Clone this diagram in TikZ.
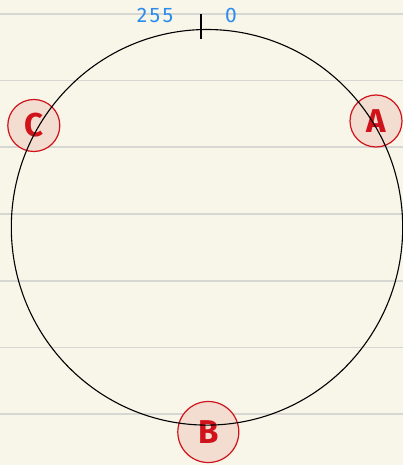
\documentclass[tikz,border=0pt]{standalone}
\usepackage{fontspec}
\setmainfont{Fira Sans}
\definecolor{paper}{HTML}{F8F5E9}
\definecolor{rule}{HTML}{D6D6D3}
\definecolor{nodered}{HTML}{D0121B}
\definecolor{nodefill}{HTML}{F3DCD0}
\definecolor{tickblue}{HTML}{2B8CF0}
\tikzset{
  ringnode/.style={circle, draw=nodered, fill=nodefill, line width=1.2pt, inner sep=0pt, text=nodered, font=\bfseries\fontsize{33}{33}\selectfont},
  lbl/.style={text=tickblue, font=\fontsize{21}{21}\selectfont\addfontfeature{LetterSpace=12}, inner sep=0pt}
}
\begin{document}
\begin{tikzpicture}[x=1pt,y=-1pt]
\fill[paper] (0,0) rectangle (403,465);
\useasboundingbox (0,0) rectangle (403,465);
\foreach \yy in {14,80.7,147.3,214,280.7,347.3,414}
  \draw[rule, line width=1.6pt] (0,\yy) -- (403,\yy);
\node[ringnode, minimum size=52pt] (A) at (376,121) {A};
\node[ringnode, minimum size=52pt] (C) at (33.8,125.5) {C};
\node[ringnode, minimum size=61pt] (B) at (208.3,432) {B};
\draw[black, line width=1.1pt] (207,227.3) ellipse [x radius=195.7, y radius=197.8];
\coordinate (t1) at (201,14.3);
\coordinate (t2) at (201,39);
\draw[black, line width=1.1pt] (t1) -- (t2);
\node[lbl] (n255) at (155,15.5) {255};
\node[lbl] (n0) at (231,15.5) {0};
\end{tikzpicture}
\end{document}
